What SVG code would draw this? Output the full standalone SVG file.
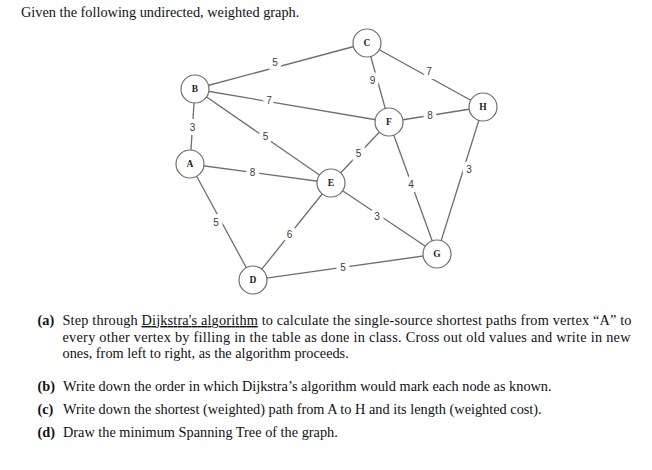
<svg xmlns="http://www.w3.org/2000/svg" width="652" height="470" viewBox="0 0 652 470">
<style>
.e{stroke:#6e6e6e;stroke-width:1.3;fill:none}
.n circle{fill:#fff;stroke:#6e6e6e;stroke-width:1.2}
.n text{font-family:"Liberation Serif",serif;font-weight:bold;font-size:9.5px;fill:#222;text-anchor:middle;dominant-baseline:central}
.w{font-family:"Liberation Sans",Arial,sans-serif;font-size:10px;fill:#3a3a3a;text-anchor:middle;dominant-baseline:central;stroke:#fff;stroke-width:8;paint-order:stroke}
.t{font-family:"Liberation Serif",serif;font-size:14.3px;fill:#111}
.b{font-weight:bold}
</style>
<rect width="652" height="470" fill="#fff"/>
<text class="t" x="21" y="17">Given the following undirected, weighted graph.</text>
<g id="connectors">
<line class="e" x1="190" y1="164" x2="195" y2="89"/>
<line class="e" x1="190" y1="164" x2="331" y2="183"/>
<line class="e" x1="190" y1="164" x2="253" y2="280"/>
<line class="e" x1="195" y1="89" x2="367" y2="43"/>
<line class="e" x1="195" y1="89" x2="389" y2="122"/>
<line class="e" x1="195" y1="89" x2="331" y2="183"/>
<line class="e" x1="367" y1="43" x2="389" y2="122"/>
<line class="e" x1="367" y1="43" x2="483" y2="107"/>
<line class="e" x1="389" y1="122" x2="483" y2="107"/>
<line class="e" x1="331" y1="183" x2="389" y2="122"/>
<line class="e" x1="389" y1="122" x2="437" y2="254"/>
<line class="e" x1="331" y1="183" x2="437" y2="254"/>
<line class="e" x1="253" y1="280" x2="331" y2="183"/>
<line class="e" x1="253" y1="280" x2="437" y2="254"/>
<line class="e" x1="483" y1="107" x2="437" y2="254"/>
<text class="w" x="192.5" y="127.5">3</text>
<text class="w" x="252.5" y="172">8</text>
<text class="w" x="216" y="222.5">5</text>
<text class="w" x="275" y="62.5">5</text>
<text class="w" x="269" y="100">7</text>
<text class="w" x="265.5" y="136">5</text>
<text class="w" x="372.5" y="80.5">9</text>
<text class="w" x="429" y="71.5">7</text>
<text class="w" x="430" y="115.5">8</text>
<text class="w" x="358.5" y="153">5</text>
<text class="w" x="411" y="184">4</text>
<text class="w" x="377" y="216">3</text>
<text class="w" x="289.5" y="234">6</text>
<text class="w" x="343" y="267">5</text>
<text class="w" x="469" y="169">3</text>
</g>
<g id="A" class="n"><circle cx="190" cy="164" r="14"/><text x="190" y="164">A</text></g>
<g id="B" class="n"><circle cx="195" cy="89" r="14"/><text x="195" y="89">B</text></g>
<g id="C" class="n"><circle cx="367" cy="43" r="14"/><text x="367" y="43">C</text></g>
<g id="D" class="n"><circle cx="253" cy="280" r="14"/><text x="253" y="280">D</text></g>
<g id="E" class="n"><circle cx="331" cy="183" r="14"/><text x="331" y="183">E</text></g>
<g id="F" class="n"><circle cx="389" cy="122" r="14"/><text x="389" y="122">F</text></g>
<g id="G" class="n"><circle cx="437" cy="254" r="14"/><text x="437" y="254">G</text></g>
<g id="H" class="n"><circle cx="483" cy="107" r="14"/><text x="483" y="107">H</text></g>
<text class="t b" x="37.5" y="325">(a)</text>
<text class="t" x="62.5" y="325" textLength="569">Step through <tspan text-decoration="underline">Dijkstra's algorithm</tspan> to calculate the single-source shortest paths from vertex “A” to</text>
<text class="t" x="62.5" y="341.5" textLength="568">every other vertex by filling in the table as done in class. Cross out old values and write in new</text>
<text class="t" x="62.5" y="358">ones, from left to right, as the algorithm proceeds.</text>
<text class="t b" x="37.5" y="390.5">(b)</text>
<text class="t" x="63" y="390.5">Write down the order in which Dijkstra’s algorithm would mark each node as known.</text>
<text class="t b" x="37.5" y="414">(c)</text>
<text class="t" x="63" y="414">Write down the shortest (weighted) path from A to H and its length (weighted cost).</text>
<text class="t b" x="37.5" y="437">(d)</text>
<text class="t" x="63" y="437">Draw the minimum Spanning Tree of the graph.</text>
</svg>
